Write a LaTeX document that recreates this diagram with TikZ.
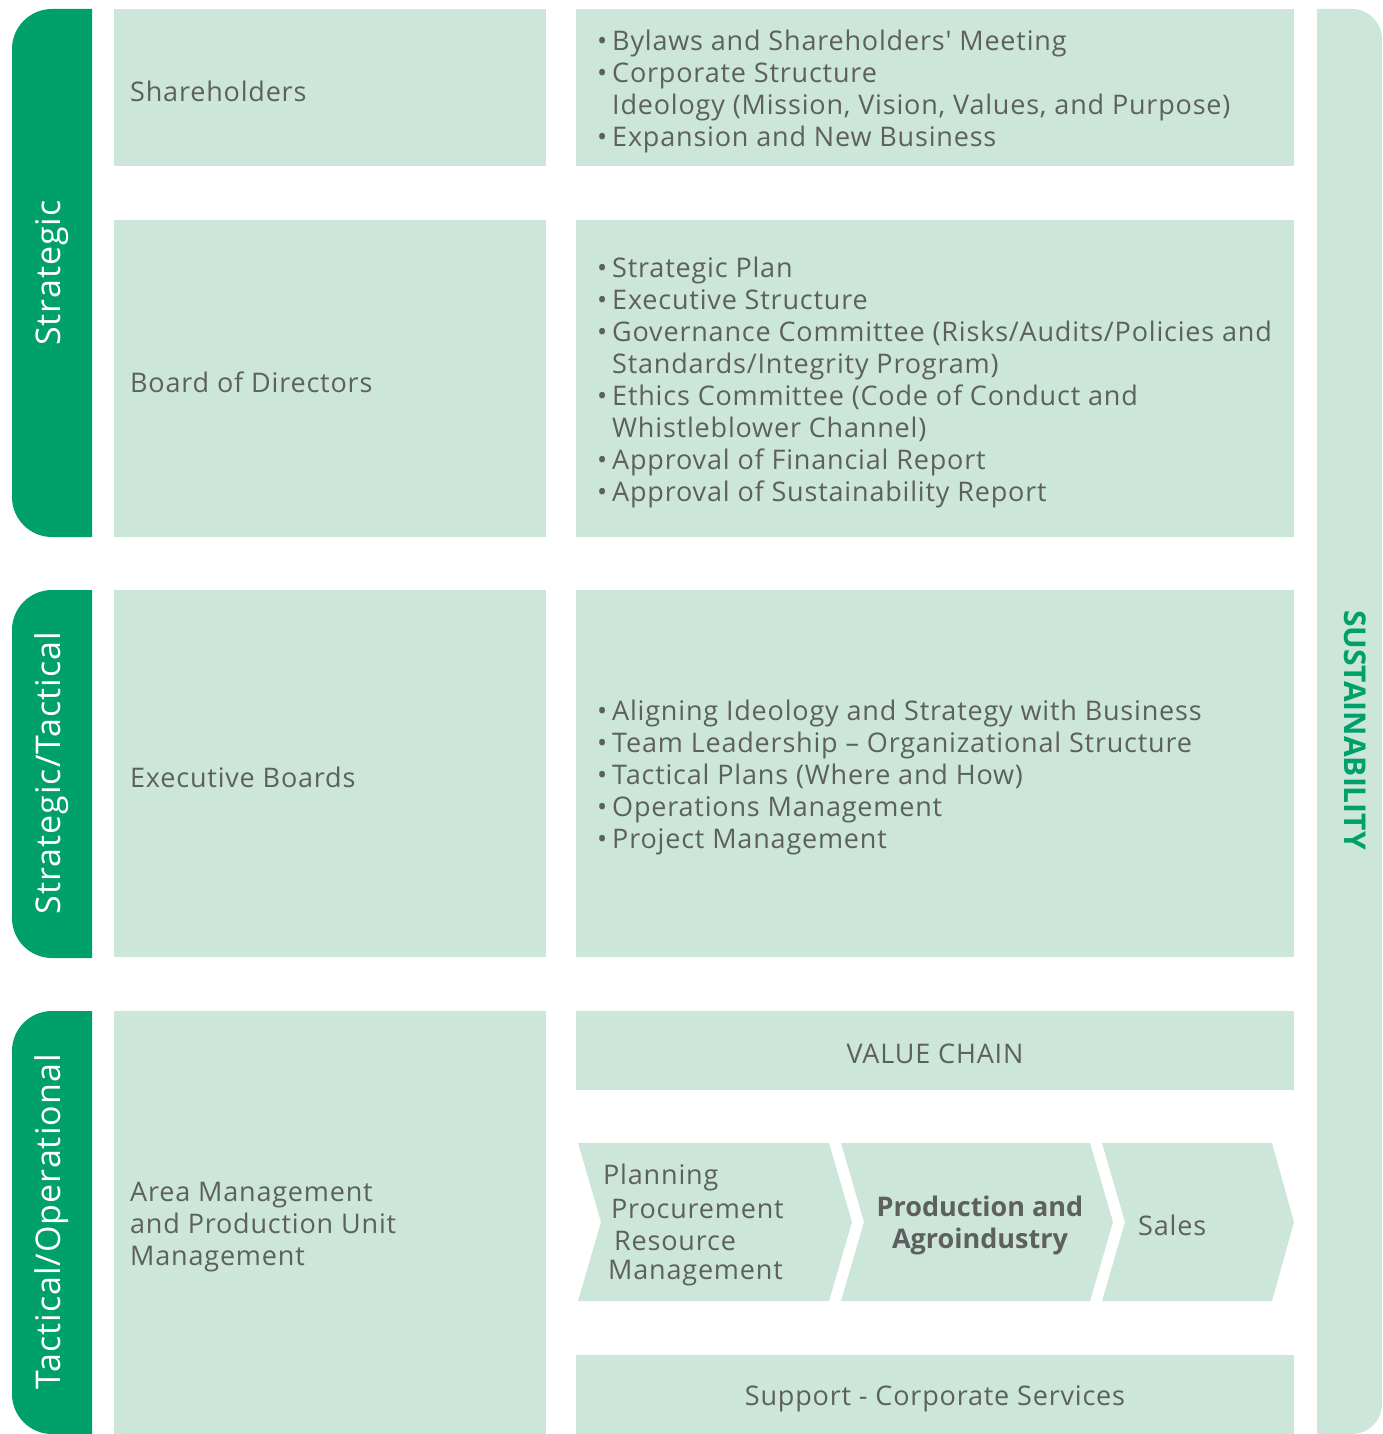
\documentclass[tikz,border=0pt]{standalone}
\usepackage{fontspec}
\setmainfont{Open Sans}
\newfontfamily\ltfont[LetterSpace=3]{Open Sans}
\definecolor{dgreen}{HTML}{00A06B}
\definecolor{mint}{HTML}{CCE6D9}
\definecolor{txt}{HTML}{5E6060}
\newcommand{\bl}{\makebox[15pt][l]{\textbullet}}
\newcommand{\ind}{\hspace*{15pt}}
\begin{document}
\begin{tikzpicture}[x=1pt,y=-1pt,
  box/.style={fill=mint},
  lbl/.style={text=txt,font=\ltfont\fontsize{27}{32}\selectfont,inner sep=0pt,align=left},
  tab/.style={text=white,font=\ltfont\fontsize{34}{40}\selectfont,rotate=90,inner sep=0pt}]
\useasboundingbox (0,0) rectangle (1382,1434);
% tabs
\begin{scope}
\clip (0,0) rectangle (92,1434);
\fill[dgreen,rounded corners=40] (12,9) rectangle (172,537);
\fill[dgreen,rounded corners=40] (12,590) rectangle (172,958);
\fill[dgreen,rounded corners=40] (12,1011) rectangle (172,1434);
\end{scope}
\node[tab] (t1) at (52,273) {Strategic};
\node[tab] (t2) at (52,773) {Strategic/Tactical};
\node[tab] (t3) at (52,1222) {Tactical/Operational};
% sustainability bar
\begin{scope}
\clip (1317,0) rectangle (1382,1434);
\fill[mint,rounded corners=30] (1257,9) rectangle (1382,1434);
\end{scope}
\node[text=dgreen,font=\fontsize{30}{34}\selectfont\bfseries,rotate=-90,inner sep=0pt] (sus) at (1355,730) {SUSTAINABILITY};
% left boxes
\fill[box] (114,9) rectangle (546,166);
\fill[box] (114,220) rectangle (546,537);
\fill[box] (114,590) rectangle (546,957);
\fill[box] (114,1011) rectangle (546,1434);
% right boxes
\fill[box] (576,9) rectangle (1294,166);
\fill[box] (576,220) rectangle (1294,537);
\fill[box] (576,590) rectangle (1294,957);
\fill[box] (576,1011) rectangle (1294,1090);
\fill[box] (576,1355) rectangle (1294,1434);
% chevrons
\fill[box] (578,1143) -- (829,1143) -- (852,1222) -- (829,1301) -- (578,1301) -- (601,1222) -- cycle;
\fill[box] (841,1143) -- (1090,1143) -- (1113,1222) -- (1090,1301) -- (841,1301) -- (864,1222) -- cycle;
\fill[box] (1102,1143) -- (1272,1143) -- (1294,1222) -- (1272,1301) -- (1102,1301) -- (1125,1222) -- cycle;
% left labels
\node[lbl,anchor=west] (sh) at (130,91) {Shareholders};
\node[lbl,anchor=west] (bd) at (130,382) {Board of Directors};
\node[lbl,anchor=west] (eb) at (130,777) {Executive Boards};
\node[lbl,anchor=west] (am) at (130,1227) {Area Management\\and Production Unit\\Management};
% right lists
\node[lbl,anchor=west] (l1) at (597,91) {\bl Bylaws and Shareholders' Meeting\\\bl Corporate Structure\\\ind Ideology (Mission, Vision, Values, and Purpose)\\\bl Expansion and New Business};
\node[lbl,anchor=west] (l2) at (597,382) {\bl Strategic Plan\\\bl Executive Structure\\\bl Governance Committee (Risks/Audits/Policies and\\\ind Standards/Integrity Program)\\\bl Ethics Committee (Code of Conduct and\\\ind Whistleblower Channel)\\\bl Approval of Financial Report\\\bl Approval of Sustainability Report};
\node[lbl,anchor=west] (l3) at (597,777) {\bl Aligning Ideology and Strategy with Business\\\bl Team Leadership – Organizational Structure\\\bl Tactical Plans (Where and How)\\\bl Operations Management\\\bl Project Management};
% value chain
\node[lbl] (vc) at (935,1054) {VALUE CHAIN};
\node[lbl] (sup) at (935,1399) {Support - Corporate Services};
\node[lbl,anchor=west] (p1) at (603,1177) {Planning};
\node[lbl,anchor=west] (p2) at (611,1209) {Procurement};
\node[lbl,anchor=west] (p3) at (614,1241) {Resource};
\node[lbl,anchor=west] (p4) at (608,1273) {Management};
\node[lbl,align=center,font=\fontsize{27}{32}\selectfont\bfseries] (pa) at (980,1225) {Production and\\Agroindustry};
\node[lbl,anchor=west] (sa) at (1138,1225) {Sales};
\end{tikzpicture}
\end{document}
